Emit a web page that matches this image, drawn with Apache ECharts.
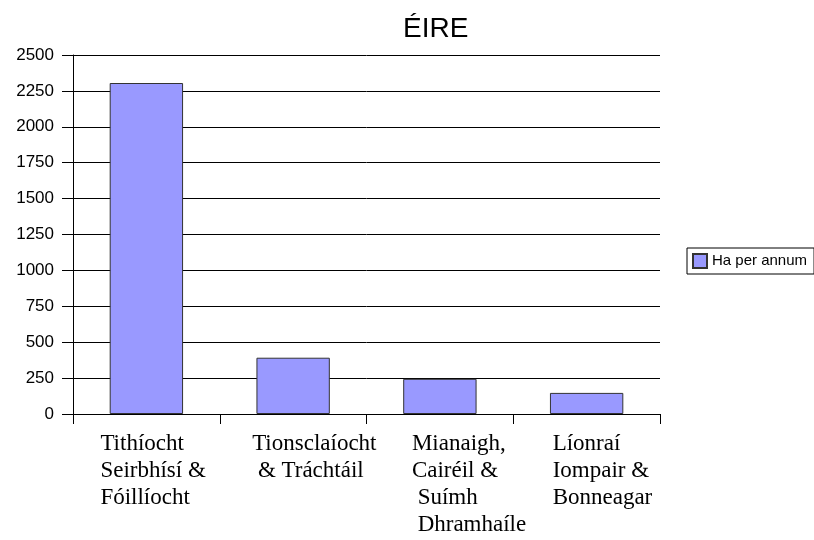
<!DOCTYPE html>
<html lang="ga">
<head>
    <meta charset="UTF-8">
    <title>ÉIRE</title>
    <style>
        html, body { margin: 0; padding: 0; background: #fff; }
        #chart { width: 814px; height: 540px; }
    </style>
</head>
<body>
    <div id="chart"></div>
    <script src="https://cdn.jsdelivr.net/npm/echarts@6/dist/echarts.min.js"></script>
    <script>
        // data
        var categories = [
            'Tithíocht\nSeirbhísí &\nFóillíocht',
            'Tionsclaíocht\n & Tráchtáil',
            'Mianaigh,\nCairéil &\n Suímh\n Dhramhaíle',
            'Líonraí\nIompair &\nBonneagar'
        ]
        var seriesName = 'Ha per annum'
        var values = [2305, 392, 245, 147]
        var yTicks = { min: 0, max: 2500, step: 250 }

        // label block widths so each label starts where it does in the picture
        var labelBoxWidth = [92, 82, 56, 68]
        var rich = {}
        labelBoxWidth.forEach(function (w, i) {
            rich['c' + i] = {
                width: w,
                align: 'left',
                fontFamily: 'Liberation Serif',
                fontSize: 23,
                lineHeight: 27,
                color: '#000'
            }
        })

        var chart = echarts.init(document.getElementById('chart'))
        chart.setOption({
            animation: false,
            title: {
                text: 'ÉIRE',
                left: 403,
                top: 15,
                padding: 0,
                textStyle: {
                    fontFamily: 'Liberation Sans',
                    fontSize: 28,
                    fontWeight: 'normal',
                    color: '#000'
                }
            },
            legend: {
                data: [seriesName],
                orient: 'vertical',
                left: 687,
                top: 248,
                padding: [5, 7, 5, 5],
                borderColor: '#000',
                borderWidth: 1,
                icon: 'rect',
                itemWidth: 14,
                itemHeight: 14,
                itemGap: 4,
                textStyle: {
                    fontFamily: 'Liberation Sans',
                    fontSize: 15,
                    color: '#000'
                }
            },
            grid: {
                left: 73,
                right: 154,
                top: 55,
                bottom: 126,
                containLabel: false
            },
            xAxis: {
                type: 'category',
                data: categories,
                boundaryGap: true,
                axisLine: { lineStyle: { color: '#000', width: 1 } },
                axisTick: { show: true, length: 10, lineStyle: { color: '#000' } },
                axisLabel: {
                    interval: 0,
                    margin: 16,
                    align: 'center',
                    formatter: function (value, index) {
                        return value.split('\n').map(function (line) {
                            return '{c' + index + '|' + line + '}'
                        }).join('\n')
                    },
                    rich: rich
                }
            },
            yAxis: {
                type: 'value',
                min: yTicks.min,
                max: yTicks.max,
                interval: yTicks.step,
                axisLine: { show: true, lineStyle: { color: '#000', width: 1 } },
                axisTick: { show: true, length: 11, lineStyle: { color: '#000' } },
                axisLabel: {
                    margin: 19,
                    fontFamily: 'Liberation Sans',
                    fontSize: 17,
                    color: '#000',
                    formatter: function (v) { return String(v) }
                },
                splitLine: { show: true, lineStyle: { color: '#000', width: 1 } }
            },
            series: [
                {
                    name: seriesName,
                    type: 'bar',
                    data: values,
                    barWidth: '50%',
                    itemStyle: {
                        color: '#9999ff',
                        borderColor: '#333',
                        borderWidth: 1
                    }
                }
            ]
        })
    </script>
</body>
</html>
